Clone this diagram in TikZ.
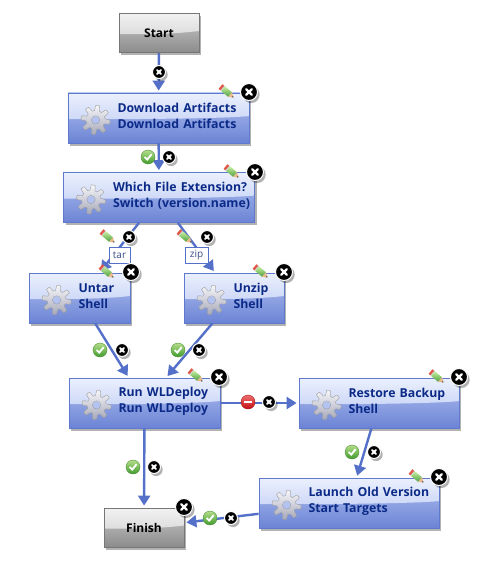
\documentclass[tikz,border=0pt]{standalone}
\usepackage{fontspec}
\setmainfont{Open Sans}
\usetikzlibrary{arrows.meta,shadows}
\definecolor{flowblue}{HTML}{5470C8}
\definecolor{tasknavy}{HTML}{0B2A88}
\definecolor{bluetop}{HTML}{EBF0FD}
\definecolor{bluemid}{HTML}{B4C4F2}
\definecolor{bluelow}{HTML}{6B83D4}
\definecolor{blueedge}{HTML}{5F79CE}
\definecolor{graytop}{HTML}{F2F2F2}
\definecolor{graymid}{HTML}{CBCBCB}
\definecolor{graylow}{HTML}{8C8C8C}
\definecolor{grayedge}{HTML}{777777}
\definecolor{oktop}{HTML}{B5DE8A}
\definecolor{oklow}{HTML}{3F9A2C}
\definecolor{okedge}{HTML}{4E8F38}
\definecolor{stoptop}{HTML}{F07070}
\definecolor{stoplow}{HTML}{C00E14}
\definecolor{stopedge}{HTML}{A81015}
\definecolor{geartop}{HTML}{F6F6FA}
\definecolor{gearlow}{HTML}{A6A8B8}
\definecolor{gearhole}{HTML}{B3C2EE}
\definecolor{pencilred}{HTML}{E0574A}
\definecolor{pencilband}{HTML}{C9CCC8}
\definecolor{penciltop}{HTML}{C6EFA0}
\definecolor{pencillow}{HTML}{4E9E3E}
\definecolor{pencilwood}{HTML}{E7B98A}
\tikzset{
  softshadow/.style={drop shadow={fill=black,opacity=0.3,shadow xshift=2.2pt,shadow yshift=-2.6pt}},
  % the shared look of every box: a curved shine over the upper half
  glossbox/.style n args={4}{rectangle,inner xsep=0pt,inner ysep=0pt,line width=0.8pt,softshadow,
    bottom color=#3,top color=#2,draw=#4,
    path picture={\shade[top color=#1,bottom color=#2]
      (path picture bounding box.north west) -- (path picture bounding box.north east)
      -- ([yshift=2pt]path picture bounding box.east)
      .. controls ([xshift=-25pt,yshift=-1pt]path picture bounding box.east) and ([xshift=30pt,yshift=-1.5pt]path picture bounding box.west) .. ([yshift=-1pt]path picture bounding box.west) -- cycle;}},
  taskbox/.style={glossbox={bluetop}{bluemid}{bluelow}{blueedge},text width=#1,align=left,minimum height=50pt,
    font=\fontsize{12.3}{16}\selectfont\bfseries,text=tasknavy,
    execute at begin node={\leftskip=49.5pt\relax},execute at end node={\par\vspace{4pt}}},
  termbox/.style={glossbox={graytop}{graymid}{graylow}{grayedge},minimum width=80pt,minimum height=39pt,
    font=\fontsize{12}{14}\selectfont\bfseries,text=black},
  flowarr/.style={draw=flowblue,line width=2.4pt,-{Triangle[length=10pt,width=12pt]},shorten >=2pt},
  branchtag/.style={draw=flowblue,fill=white,line width=0.7pt,inner xsep=0pt,inner ysep=0pt,minimum height=16pt,
    font=\fontsize{10}{12}\selectfont,text=flowblue!70!black},
  closebtn/.style={circle,fill=black,draw=white,line width=1pt,inner sep=0pt,minimum size=#1 pt,softshadow,
    path picture={\draw[white,line width=0.14*#1 pt,line cap=round]
      ([shift={(-0.16*#1 pt,-0.16*#1 pt)}]path picture bounding box.center) -- ([shift={(0.16*#1 pt,0.16*#1 pt)}]path picture bounding box.center)
      ([shift={(-0.16*#1 pt,0.16*#1 pt)}]path picture bounding box.center) -- ([shift={(0.16*#1 pt,-0.16*#1 pt)}]path picture bounding box.center);}},
  okbadge/.style={circle,inner sep=0pt,minimum size=14pt,top color=oktop,bottom color=oklow,draw=okedge,line width=0.4pt,
    path picture={\draw[white,line width=1.9pt]
      ([shift={(-3.4pt,0pt)}]path picture bounding box.center) -- ([shift={(-0.8pt,-2.6pt)}]path picture bounding box.center)
      -- ([shift={(3.6pt,2.8pt)}]path picture bounding box.center);}},
  stopbadge/.style={circle,inner sep=0pt,minimum size=14pt,top color=stoptop,bottom color=stoplow,draw=stopedge,line width=0.4pt,
    path picture={\fill[white] ([shift={(-4.2pt,-1.3pt)}]path picture bounding box.center) rectangle ([shift={(4.2pt,1.3pt)}]path picture bounding box.center);}},
  gearicon/.pic={
    \draw[draw=gray!75,line width=0.4pt,top color=geartop,bottom color=gearlow,even odd rule]
      plot[smooth cycle,samples=97,domain=0:356.25] (\x:{12+2.6*max(-1,min(1,2.2*sin(8*\x+20)))})
      (0,0) circle (4.2);
    \fill[gearhole] (0,0) circle (3.8);
  },
  pencilicon/.pic={
    \begin{scope}[rotate=-40]
      \fill[pencilred] (-8.5,-3) rectangle (-6,3);
      \fill[pencilband] (-6,-3) rectangle (-5,3);
      \shade[top color=penciltop,bottom color=pencillow] (-5,-3) rectangle (4,3);
      \fill[pencilwood] (4,-3) -- (8.5,0) -- (4,3) -- cycle;
      \fill[gray!60!black] (7,-0.9) -- (8.5,0) -- (7,0.9) -- cycle;
    \end{scope}
  }
}
\begin{document}
\begin{tikzpicture}[x=1pt,y=-1pt]
\useasboundingbox (0,0) rectangle (479,564);
% boxes
\node[termbox] (start) at (159,33) {Start};
\node[taskbox=181pt] (download) at (158.5,118) {Download Artifacts\\Download Artifacts};
\node[taskbox=191pt] (switchext) at (159,197.5) {Which File Extension?\\Switch (version.name)};
\node[taskbox=101pt] (untar) at (79.5,298) {Untar\\Shell};
\node[taskbox=100pt] (unzip) at (234,298) {Unzip\\Shell};
\node[taskbox=151pt] (deploy) at (144.5,403) {Run WLDeploy\\Run WLDeploy};
\node[taskbox=160pt] (restore) at (379,403) {Restore Backup\\Shell};
\node[taskbox=180pt] (launch) at (349,503) {Launch Old Version\\Start Targets};
\node[termbox] (finish) at (144,527.5) {Finish};
% gears
\foreach \boxname in {download,switchext,untar,unzip,deploy,restore,launch}
  \pic at ([xshift=28pt,yshift=-2pt]\boxname.west) {gearicon};
% connectors
\draw[flowarr] (start) -- (download);
\draw[flowarr] (download) -- (switchext);
\draw[flowarr] (switchext) -- (untar);
\draw[flowarr] (switchext) -- (unzip);
\draw[flowarr] (untar) -- (deploy);
\draw[flowarr] (unzip) -- (deploy);
\draw[flowarr] (deploy) -- (restore);
\draw[flowarr] (deploy) -- (finish);
\draw[flowarr] (restore) -- (launch);
\draw[flowarr] (launch) -- (finish);
% branch tags
\node[branchtag,minimum width=21pt] (tagtar) at (119.5,255) {tar};
\node[branchtag,minimum width=23pt] (tagzip) at (196.5,255) {zip};
% pencils
\foreach \px/\py in {227/92,232/172,108/237,185/237,107/272,261/272,196/376,437/377,417/477}
  \pic at (\px,\py) {pencilicon};
% large close buttons
\node[closebtn=17] (xdownload) at (249,92) {};
\node[closebtn=17] (xswitchext) at (255,172) {};
\node[closebtn=17] (xuntar) at (131,272) {};
\node[closebtn=17] (xunzip) at (284,272) {};
\node[closebtn=17] (xdeploy) at (219,377) {};
\node[closebtn=17] (xrestore) at (459,377) {};
\node[closebtn=17] (xlaunch) at (439,477) {};
\node[closebtn=17] (xfinish) at (184,507) {};
% small close buttons on connectors
\node[closebtn=13] (xa) at (159,72) {};
\node[closebtn=13] (xb) at (169,157) {};
\node[closebtn=13] (xc) at (129,237) {};
\node[closebtn=13] (xd) at (207,237) {};
\node[closebtn=13] (xe) at (122,350) {};
\node[closebtn=13] (xf) at (199,350) {};
\node[closebtn=13] (xg) at (269,402) {};
\node[closebtn=13] (xh) at (154,467) {};
\node[closebtn=13] (xi) at (374,452) {};
\node[closebtn=13] (xj) at (231,518) {};
% status badges
\node[okbadge] (oka) at (148,157) {};
\node[okbadge] (okb) at (100,350) {};
\node[okbadge] (okc) at (178,350) {};
\node[okbadge] (okd) at (133,467) {};
\node[okbadge] (oke) at (352,452) {};
\node[okbadge] (okf) at (210,518) {};
\node[stopbadge] (failrun) at (248,402) {};
\end{tikzpicture}
\end{document}
